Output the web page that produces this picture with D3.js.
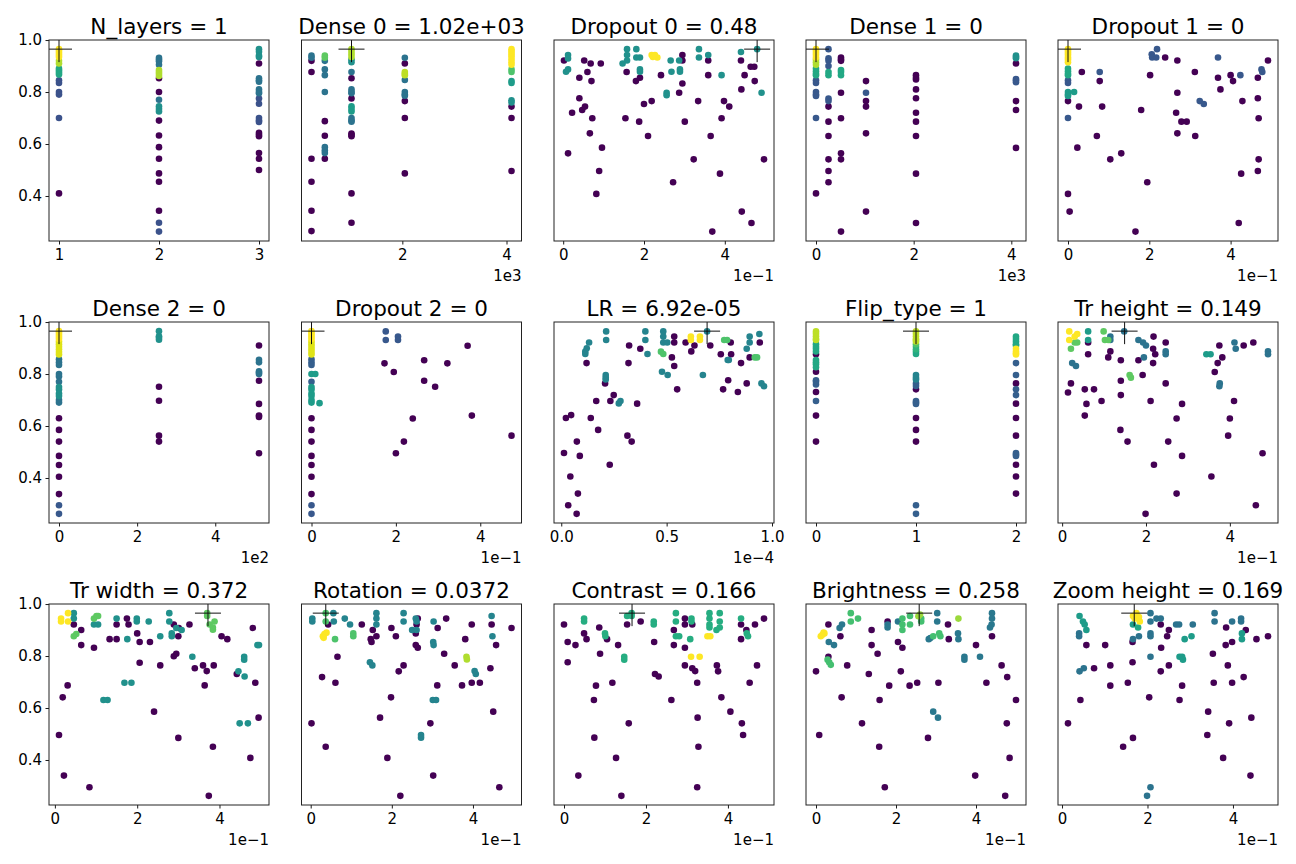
<!DOCTYPE html>
<html>
<head>
<meta charset="utf-8">
<script src="https://cdn.jsdelivr.net/npm/d3@7"></script>
<style>
  body { margin: 0; background: #fff; }
  text { font-family: "DejaVu Sans", sans-serif; fill: #000; }
</style>
</head>
<body>
<div id="chart"></div>
<script>
// Panel titles, best value per hyperparameter, and tick setup
var titles = ["N_layers = 1", "Dense 0 = 1.02e+03", "Dropout 0 = 0.48", "Dense 1 = 0", "Dropout 1 = 0",
  "Dense 2 = 0", "Dropout 2 = 0", "LR = 6.92e-05", "Flip_type = 1", "Tr height = 0.149",
  "Tr width = 0.372", "Rotation = 0.0372", "Contrast = 0.166", "Brightness = 0.258", "Zoom height = 0.169"];
var bestX = [1, 1024, 0.48, 0, 0, 0, 0, 6.92e-5, 1, 0.149, 0.372, 0.0372, 0.166, 0.258, 0.169];
var bestY = 0.965;
var tickSteps = [1, 2000, 0.2, 2000, 0.2, 200, 0.2, 0.5e-4, 1, 0.2, 0.2, 0.2, 0.2, 0.2, 0.2];
var tickUnits = [1, 1e3, 1e-1, 1e3, 1e-1, 1e2, 1e-1, 1e-4, 1, 1e-1, 1e-1, 1e-1, 1e-1, 1e-1, 1e-1];
var offsetLabels = ["", "1e3", "1e\u22121", "1e3", "1e\u22121", "1e2", "1e\u22121", "1e\u22124", "", "1e\u22121",
  "1e\u22121", "1e\u22121", "1e\u22121", "1e\u22121", "1e\u22121"];
var tickFormats = ["d", "d", "d", "d", "d", "d", "d", ".1f", "d", "d", "d", "d", "d", "d", "d"];
var yTicks = [0.4, 0.6, 0.8, 1.0];

// trials: [hyperparameter value, accuracy, colour value]
var nLayersPts = [
  [1,0.965,1],[1,0.958,1],[1,0.95,1],[1,0.942,1],[1,0.935,1],[1,0.92,.88],[1,0.91,.88],[1,0.89,.6],[1,0.883,.6],[1,0.875,.6],[1,0.867,.6],[1,0.845,.25],[1,0.835,.25],[1,0.8,.25],[1,0.79,.25],[1,0.7,.25],[1,0.41,0],
  [2,0.932,.38],[2,0.925,.38],[2,0.918,.38],[2,0.905,.38],[2,0.885,.88],[2,0.877,.88],[2,0.87,.88],[2,0.862,.88],[2,0.853,0],[2,0.8,0],[2,0.77,.38],[2,0.745,.5],[2,0.735,.5],[2,0.725,.5],[2,0.69,0],[2,0.633,0],[2,0.588,0],[2,0.543,0],[2,0.487,0],[2,0.455,0],[2,0.343,0],[2,0.297,.25],[2,0.263,.25],
  [3,0.965,.5],[3,0.955,.5],[3,0.94,.5],[3,0.935,.5],[3,0.91,0],[3,0.853,.38],[3,0.845,.38],[3,0.84,.38],[3,0.81,.38],[3,0.8,.38],[3,0.795,.38],[3,0.775,.25],[3,0.755,.25],[3,0.7,.25],[3,0.69,.25],[3,0.685,.25],[3,0.643,0],[3,0.636,0],[3,0.63,0],[3,0.565,0],[3,0.543,0],[3,0.5,0]
];
var dense0Pts = [
  [256,0.94,.38],[256,0.932,.38],[256,0.92,0],[256,0.877,0],[256,0.543,0],[256,0.455,0],[256,0.343,0],[256,0.265,0],
  [512,0.94,.75],[512,0.932,.75],[512,0.92,.38],[512,0.887,.38],[512,0.865,.38],[512,0.8,.38],[512,0.688,0],[512,0.632,0],[512,0.588,.38],[512,0.575,.38],[512,0.565,.38],[512,0.543,0],
  [1024,0.965,.88],[1024,0.955,.88],[1024,0.945,.88],[1024,0.935,.88],[1024,0.925,.5],[1024,0.915,.5],[1024,0.877,.38],[1024,0.853,0],[1024,0.81,.38],[1024,0.8,.38],[1024,0.795,.38],[1024,0.775,0],[1024,0.745,.55],[1024,0.735,.55],[1024,0.725,.55],[1024,0.7,.38],[1024,0.69,.38],[1024,0.686,.38],[1024,0.64,0],[1024,0.635,0],[1024,0.63,0],[1024,0.41,0],[1024,0.297,0],
  [2048,0.932,.38],[2048,0.91,0],[2048,0.877,.9],[2048,0.87,.9],[2048,0.865,.9],[2048,0.846,.38],[2048,0.8,.38],[2048,0.79,.38],[2048,0.786,.38],[2048,0.765,0],[2048,0.7,0],[2048,0.487,0],
  [4096,0.965,1],[4096,0.958,1],[4096,0.95,1],[4096,0.942,1],[4096,0.935,1],[4096,0.925,1],[4096,0.915,1],[4096,0.905,1],[4096,0.887,.72],[4096,0.877,.72],[4096,0.842,.55],[4096,0.835,.55],[4096,0.768,.5],[4096,0.76,.5],[4096,0.744,0],[4096,0.7,0],[4096,0.496,0]
];
var dropout0Pts = [
  [0.012,0.942,.5],[0.012,0.929,.5],[0.007,0.878,.5],[0.012,0.887,.5],[0.158,0.965,.5],[0.158,0.942,.5],[0.158,0.921,.5],[0.181,0.965,.5],[0.181,0.933,.5],[0.19,0.933,.5],[0.19,0.887,.5],[0.19,0.878,.5],[0.147,0.91,.5],[0.256,0.797,.5],[0.256,0.788,.5],[0.266,0.921,.5],[0.268,0.878,.5],[0.287,0.921,.5],[0.289,0.887,.5],[0.289,0.878,.5],[0.336,0.965,.5],[0.336,0.933,.5],[0.359,0.942,.5],[0.392,0.865,.5],[0.44,0.954,.5],[0.48,0.965,.5],[0.491,0.797,.5],
  [0.219,0.942,1],[0.227,0.942,1],[0.233,0.933,1],[0.222,0.935,1],
  [0.002,0.921,0],[0.052,0.921,0],[0.068,0.91,0],[0.093,0.91,0],[0.04,0.855,0],[0.06,0.877,0],[0.07,0.842,0],[0.04,0.776,0],[0.022,0.72,0],[0.047,0.731,0],[0.054,0.744,0],[0.072,0.699,0],[0.066,0.641,0],[0.096,0.586,0],[0.012,0.564,0],[0.089,0.496,0],[0.082,0.408,0],
  [0.157,0.877,0],[0.18,0.842,0],[0.19,0.855,0],[0.2,0.754,0],[0.219,0.765,0],[0.242,0.865,0],[0.154,0.699,0],[0.188,0.686,0],[0.21,0.631,0],[0.272,0.453,0],[0.287,0.797,0],[0.295,0.942,0],[0.295,0.921,0],[0.295,0.833,0],[0.301,0.686,0],[0.323,0.541,0],[0.334,0.765,0],
  [0.359,0.921,0],[0.359,0.865,0],[0.365,0.631,0],[0.369,0.263,0],[0.388,0.486,0],[0.392,0.699,0],[0.398,0.765,0],[0.411,0.744,0],[0.44,0.921,0],[0.441,0.81,0],[0.449,0.865,0],[0.442,0.34,0],[0.464,0.897,0],[0.473,0.897,0],[0.474,0.842,0],[0.466,0.296,0],[0.497,0.541,0]
];
var dense1Pts = [
  [0,0.965,1],[0,0.958,1],[0,0.95,1],[0,0.942,1],[0,0.933,1],[0,0.925,.88],[0,0.915,.88],[0,0.905,.88],[0,0.89,.6],[0,0.88,.6],[0,0.87,.6],[0,0.865,.6],[0,0.845,.27],[0,0.835,.27],[0,0.8,.27],[0,0.79,.27],[0,0.785,.27],[0,0.7,.27],[0,0.41,0],
  [256,0.965,.27],[256,0.93,.27],[256,0.92,.27],[256,0.9,.27],[256,0.877,.6],[256,0.865,.6],[256,0.775,.27],[256,0.765,.27],[256,0.744,0],[256,0.686,0],[256,0.631,0],[256,0.541,0],[256,0.496,0],[256,0.453,0],
  [512,0.933,0],[512,0.925,0],[512,0.92,0],[512,0.885,.6],[512,0.877,.6],[512,0.865,.6],[512,0.797,0],[512,0.699,0],[512,0.564,0],[512,0.541,0],[512,0.263,0],
  [1024,0.842,0],[1024,0.797,.27],[1024,0.765,0],[1024,0.744,0],[1024,0.641,0],[1024,0.34,0],
  [2048,0.865,0],[2048,0.855,0],[2048,0.848,0],[2048,0.81,0],[2048,0.776,0],[2048,0.72,0],[2048,0.686,0],[2048,0.631,0],[2048,0.486,0],[2048,0.296,0],
  [4096,0.94,.5],[4096,0.935,.5],[4096,0.93,.5],[4096,0.91,0],[4096,0.85,.27],[4096,0.845,.27],[4096,0.838,.27],[4096,0.765,0],[4096,0.731,0],[4096,0.585,0]
];
var dropout1Pts = [
  [0,0.965,1],[0,0.958,1],[0,0.95,1],[0,0.942,1],[0,0.933,1],[0,0.925,1],[0,0.915,1],[0,0.89,.6],[0,0.88,.6],[0,0.87,.6],[0,0.865,.6],[0,0.845,.27],[0,0.835,.27],[0,0.8,.55],[0,0.79,.55],[0,0.785,.55],[0,0.765,0],[0,0.7,.27],[0,0.408,0],[0.004,0.34,0],[0.015,0.8,.55],
  [0.034,0.877,0],[0.027,0.744,0],[0.023,0.586,0],[0.071,0.631,0],[0.078,0.842,0],[0.084,0.744,0],[0.104,0.541,0],[0.131,0.564,0],[0.18,0.731,0],[0.195,0.453,0],[0.166,0.263,0],[0.202,0.865,0],[0.239,0.933,0],[0.269,0.921,0],[0.269,0.797,0],[0.266,0.72,0],[0.279,0.686,0],[0.292,0.686,0],[0.269,0.641,0],[0.312,0.877,0],[0.313,0.631,0],
  [0.369,0.855,0],[0.375,0.81,0],[0.4,0.865,0],[0.406,0.842,0],[0.429,0.765,0],[0.426,0.486,0],[0.42,0.296,0],[0.467,0.855,0],[0.467,0.776,0],[0.469,0.699,0],[0.469,0.541,0],[0.467,0.496,0],[0.492,0.921,0],
  [0.078,0.877,.27],[0.206,0.945,.27],[0.207,0.933,.27],[0.219,0.965,.27],[0.217,0.933,.27],[0.324,0.765,.27],[0.334,0.754,.27],[0.369,0.933,.27],[0.424,0.865,.27],[0.476,0.887,.27],[0.478,0.877,.27]
];
var dense2Pts = [
  [0,0.965,1],[0,0.958,1],[0,0.95,1],[0,0.942,1],[0,0.935,1],[0,0.925,.95],[0,0.915,.95],[0,0.905,.95],[0,0.895,.95],[0,0.885,.95],[0,0.875,.95],[0,0.857,.38],[0,0.845,.38],[0,0.835,.38],[0,0.8,.38],[0,0.79,.38],[0,0.77,.38],[0,0.75,.5],[0,0.74,.5],[0,0.725,.5],[0,0.715,.5],[0,0.7,.38],[0,0.69,.38],
  [0,0.63,0],[0,0.585,0],[0,0.54,0],[0,0.485,0],[0,0.45,0],[0,0.405,0],[0,0.338,0],[0,0.295,.27],[0,0.262,.27],
  [256,0.965,.5],[256,0.945,.5],[256,0.94,.5],[256,0.932,.5],[256,0.751,0],[256,0.697,0],[256,0.563,0],[256,0.54,0],
  [512,0.91,0],[512,0.855,.38],[512,0.845,.38],[512,0.81,.38],[512,0.805,.38],[512,0.8,.38],[512,0.774,0],[512,0.685,0],[512,0.64,0],[512,0.635,0],[512,0.495,0]
];
var dropout2Pts = [
  [0,0.965,1],[0,0.958,1],[0,0.95,1],[0,0.942,1],[0,0.935,1],[0,0.925,.95],[0,0.915,.95],[0,0.905,.95],[0,0.895,.95],[0,0.885,.95],[0,0.875,.95],[0,0.857,.3],[0,0.845,.3],[0,0.835,.3],[0,0.8,.55],[0,0.77,.3],[0,0.75,.55],[0,0.74,.55],[0,0.725,.55],[0,0.715,.55],[0,0.7,.55],[0,0.69,.55],
  [0,0.63,0],[0,0.585,0],[0,0.54,0],[0,0.485,0],[0,0.45,0],[0,0.405,0],[0,0.338,0],[0,0.295,.27],[0,0.262,.27],[0.009,0.8,.55],[0.019,0.688,.55],
  [0.176,0.964,.27],[0.176,0.931,.27],[0.205,0.944,.27],[0.205,0.931,.27],
  [0.173,0.841,0],[0.195,0.808,0],[0.267,0.853,0],[0.322,0.841,0],[0.37,0.909,0],[0.267,0.774,0],[0.293,0.751,0],[0.24,0.629,0],[0.38,0.64,0],[0.219,0.54,0],[0.2,0.495,0],[0.474,0.563,0]
];
var lrPts = [
  [2.13e-5,0.964,.45],[2.13e-5,0.931,.45],[1.32e-5,0.921,.45],[1.21e-5,0.899,.45],[1.14e-5,0.886,.45],[1.14e-5,0.877,.45],[2.11e-5,0.796,.45],[2.11e-5,0.786,.45],[2.11e-5,0.779,.45],[2.73e-5,0.687,.45],[2.81e-5,0.696,.45],[3.99e-5,0.964,.45],[3.99e-5,0.931,.45],[4.09e-5,0.877,.45],[4.84e-5,0.964,.45],
  [4.84e-5,0.944,.45],[4.84e-5,0.921,.45],[5.03e-5,0.921,.45],[4.78e-5,0.809,.45],[5.05e-5,0.796,.45],[6.72e-5,0.796,.45],[6.92e-5,0.964,.45],[7.9e-5,0.854,.45],[7.95e-5,0.854,.45],[8.8e-5,0.897,.45],[8.94e-5,0.944,.45],[8.94e-5,0.921,.45],[9.4e-5,0.954,.45],[9.5e-5,0.764,.45],[9.62e-5,0.753,.45],
  [4.73e-5,0.886,.72],[4.84e-5,0.877,.72],[7.73e-5,0.931,.72],[7.87e-5,0.931,.72],[9.18e-5,0.864,.72],[9.29e-5,0.864,.72],
  [6.15e-5,0.944,1],[6.15e-5,0.931,1],[6.58e-5,0.944,1],[6.58e-5,0.931,1],
  [1.2e-5,0.842,0],[0.47e-5,0.642,0],[0.22e-5,0.631,0],[1.4e-5,0.631,0],[1.66e-5,0.696,0],[1.75e-5,0.585,0],[0.74e-5,0.54,0],[0.13e-5,0.496,0],[0.88e-5,0.485,0],[0.43e-5,0.406,0],[0.79e-5,0.34,0],[0.33e-5,0.295,0],[0.73e-5,0.262,0],[2.08e-5,0.764,0],[2.33e-5,0.696,0],[2.49e-5,0.719,0],[2.3e-5,0.451,0],
  [3.14e-5,0.563,0],[3.34e-5,0.54,0],[3.6e-5,0.686,0],[3.22e-5,0.91,0],[3.19e-5,0.842,0],[3.75e-5,0.897,0],[5.36e-5,0.944,0],[5.36e-5,0.921,0],[5.25e-5,0.864,0],[5.36e-5,0.831,0],[5.5e-5,0.741,0],[5.9e-5,0.921,0],[6.17e-5,0.887,0],[6.32e-5,0.91,0],[7.07e-5,0.91,0],
  [7.57e-5,0.876,0],[8.04e-5,0.921,0],[8.06e-5,0.876,0],[7.68e-5,0.741,0],[7.92e-5,0.776,0],[8.38e-5,0.731,0],[8.53e-5,0.842,0],[8.8e-5,0.764,0],[9.42e-5,0.921,0],[8.94e-5,0.864,0]
];
var flipPts = [
  [0,0.964,.9],[0,0.955,.9],[0,0.945,.9],[0,0.935,.9],[0,0.931,.9],[0,0.915,.6],[0,0.905,.6],[0,0.897,.6],[0,0.887,.6],[0,0.876,0],[0,0.854,.6],[0,0.845,.6],[0,0.838,.6],[0,0.826,.6],[0,0.809,0],[0,0.776,.3],[0,0.77,.3],[0,0.76,.3],[0,0.731,0],[0,0.696,.3],[0,0.64,0],[0,0.54,0],
  [1,0.964,.9],[1,0.955,.9],[1,0.945,.9],[1,0.935,.9],[1,0.931,.9],[1,0.925,.9],[1,0.915,.72],[1,0.905,.65],[1,0.895,.65],[1,0.887,.6],[1,0.877,.6],[1,0.796,.45],[1,0.786,.45],[1,0.779,.45],[1,0.764,.3],[1,0.754,.3],[1,0.741,0],[1,0.696,.3],[1,0.69,.3],[1,0.685,.3],[1,0.631,0],[1,0.585,0],[1,0.54,0],[1,0.295,.3],[1,0.262,.3],
  [2,0.944,.6],[2,0.935,.6],[2,0.925,.6],[2,0.915,.6],[2,0.91,.6],[2,0.897,1],[2,0.887,1],[2,0.88,1],[2,0.875,1],[2,0.842,.3],[2,0.796,.3],[2,0.764,0],[2,0.741,.3],[2,0.719,.3],[2,0.686,0],[2,0.631,0],[2,0.563,0],[2,0.496,.3],[2,0.49,.3],[2,0.485,.3],[2,0.451,0],[2,0.406,0],[2,0.34,0]
];
var trHeightPts = [
  [0.017,0.964,1],[0.017,0.931,1],[0.03,0.944,1],[0.036,0.954,1],
  [0.021,0.897,.75],[0.03,0.921,.75],[0.036,0.921,.75],[0.099,0.964,.75],[0.102,0.931,.75],[0.11,0.931,.75],[0.161,0.796,.75],[0.164,0.786,.75],
  [0.062,0.964,.55],[0.062,0.931,.55],[0.344,0.876,.55],[0.354,0.876,.55],
  [0.024,0.842,.38],[0.033,0.831,.38],[0.115,0.944,.38],[0.115,0.931,.38],[0.148,0.964,.38],[0.182,0.931,.38],[0.193,0.921,.38],[0.2,0.91,.38],[0.195,0.864,.38],[0.247,0.887,.38],[0.247,0.876,.38],[0.376,0.764,.38],[0.375,0.753,.38],[0.411,0.921,.38],[0.414,0.897,.38],[0.491,0.887,.38],[0.491,0.876,.38],
  [0.062,0.921,0],[0.062,0.876,0],[0.021,0.764,0],[0.014,0.729,0],[0.054,0.741,0],[0.076,0.741,0],[0.058,0.685,0],[0.054,0.64,0],[0.094,0.696,0],[0.11,0.864,0],[0.115,0.887,0],[0.14,0.853,0],[0.14,0.774,0],[0.14,0.719,0],[0.139,0.585,0],[0.156,0.54,0],[0.182,0.853,0],[0.192,0.796,0],[0.211,0.696,0],
  [0.217,0.897,0],[0.218,0.944,0],[0.217,0.842,0],[0.222,0.876,0],[0.219,0.451,0],[0.247,0.921,0],[0.247,0.764,0],[0.253,0.54,0],[0.273,0.629,0],[0.273,0.34,0],[0.286,0.685,0],[0.286,0.485,0],[0.356,0.406,0],[0.364,0.808,0],[0.371,0.842,0],[0.375,0.91,0],[0.382,0.864,0],
  [0.396,0.563,0],[0.4,0.629,0],[0.41,0.696,0],[0.433,0.91,0],[0.456,0.921,0],[0.478,0.495,0],[0.462,0.295,0],[0.199,0.262,0]
];
var trWidthPts = [
  [0.015,0.944,1],[0.015,0.933,1],[0.032,0.965,1],[0.032,0.933,1],
  [0.046,0.876,.75],[0.052,0.885,.75],[0.095,0.944,.75],[0.101,0.954,.75],[0.105,0.954,.75],[0.37,0.965,.75],[0.37,0.954,.75],[0.376,0.921,.75],[0.384,0.91,.75],[0.388,0.933,.75],[0.384,0.901,.75],
  [0.046,0.965,.5],[0.046,0.944,.5],[0.095,0.921,.5],[0.105,0.921,.5],[0.15,0.944,.5],[0.176,0.865,.5],[0.199,0.944,.5],[0.199,0.933,.5],[0.228,0.933,.5],[0.256,0.876,.5],[0.278,0.965,.5],[0.278,0.933,.5],[0.284,0.887,.5],[0.284,0.876,.5],[0.308,0.9,.5],
  [0.334,0.797,.5],[0.46,0.797,.5],[0.46,0.786,.5],[0.461,0.721,.5],[0.446,0.741,.5],[0.492,0.842,.5],[0.496,0.842,.5],[0.449,0.541,.5],[0.469,0.541,.5],[0.118,0.631,.5],[0.128,0.631,.5],[0.169,0.697,.5],[0.186,0.697,.5],[0.295,0.908,.5],
  [0.046,0.921,0],[0.064,0.9,0],[0.064,0.842,0],[0.019,0.641,0],[0.031,0.687,0],[0.01,0.496,0],[0.022,0.34,0],[0.084,0.295,0],[0.095,0.832,0],[0.133,0.865,0],[0.15,0.865,0],[0.15,0.921,0],[0.175,0.944,0],[0.179,0.921,0],[0.2,0.887,0],[0.206,0.854,0],[0.206,0.774,0],[0.231,0.854,0],[0.256,0.764,0],[0.241,0.586,0],
  [0.289,0.799,0],[0.295,0.809,0],[0.289,0.921,0],[0.301,0.908,0],[0.3,0.876,0],[0.3,0.485,0],[0.327,0.921,0],[0.34,0.753,0],[0.36,0.764,0],[0.369,0.742,0],[0.364,0.687,0],[0.386,0.764,0],[0.384,0.451,0],[0.405,0.876,0],[0.419,0.865,0],[0.442,0.731,0],[0.475,0.408,0],
  [0.481,0.908,0],[0.487,0.697,0],[0.495,0.563,0],[0.374,0.262,0]
];
var rotationPts = [
  [0.03,0.876,1],[0.034,0.885,1],[0.039,0.89,1],[0.032,0.87,1],
  [0.037,0.965,.72],[0.037,0.933,.72],[0.06,0.865,.72],[0.105,0.887,.72],[0.105,0.876,.72],[0.384,0.797,.88],[0.385,0.787,.88],
  [0.004,0.944,.45],[0.004,0.933,.45],[0.056,0.965,.45],[0.057,0.933,.45],[0.084,0.944,.45],[0.097,0.921,.45],[0.162,0.965,.45],[0.162,0.944,.45],[0.162,0.921,.45],[0.146,0.776,.45],[0.152,0.764,.45],[0.229,0.965,.45],[0.229,0.933,.45],
  [0.25,0.9,.45],[0.259,0.944,.45],[0.261,0.933,.45],[0.261,0.9,.45],[0.303,0.933,.45],[0.302,0.854,.45],[0.303,0.842,.45],[0.301,0.631,.45],[0.309,0.631,.45],[0.272,0.496,.45],[0.272,0.486,.45],[0.404,0.742,.45],[0.407,0.731,.45],[0.446,0.954,.45],[0.448,0.876,.45],
  [0.002,0.541,0],[0.037,0.451,0],[0.043,0.921,0],[0.066,0.797,0],[0.061,0.697,0],[0.028,0.719,0],[0.126,0.921,0],[0.153,0.9,0],[0.148,0.865,0],[0.15,0.854,0],[0.162,0.876,0],[0.171,0.563,0],[0.189,0.408,0],[0.198,0.641,0],[0.199,0.908,0],[0.21,0.876,0],[0.217,0.741,0],[0.229,0.764,0],
  [0.221,0.262,0],[0.261,0.921,0],[0.264,0.944,0],[0.259,0.887,0],[0.259,0.842,0],[0.264,0.832,0],[0.295,0.541,0],[0.302,0.34,0],[0.313,0.908,0],[0.312,0.687,0],[0.329,0.809,0],[0.334,0.944,0],[0.355,0.764,0],[0.373,0.687,0],[0.381,0.865,0],[0.397,0.921,0],
  [0.397,0.697,0],[0.417,0.697,0],[0.443,0.753,0],[0.45,0.586,0],[0.446,0.921,0],[0.457,0.842,0],[0.465,0.295,0],[0.495,0.908,0]
];
var contrastPts = [
  [0.049,0.944,.62],[0.049,0.933,.62],[0.1,0.887,.62],[0.101,0.876,.62],[0.147,0.797,.62],[0.147,0.786,.62],[0.154,0.954,.62],[0.165,0.965,.62],[0.165,0.954,.62],[0.219,0.933,.62],[0.219,0.921,.62],[0.273,0.965,.62],[0.273,0.933,.62],[0.273,0.876,.62],[0.281,0.876,.62],
  [0.311,0.944,.62],[0.311,0.933,.62],[0.308,0.865,.62],[0.355,0.965,.62],[0.355,0.944,.62],[0.355,0.921,.62],[0.355,0.91,.62],[0.38,0.965,.62],[0.38,0.933,.62],[0.38,0.91,.62],[0.372,0.9,.62],[0.432,0.944,.62],[0.446,0.887,.62],[0.449,0.876,.62],
  [0.35,0.876,1],[0.357,0.876,1],[0.31,0.797,1],[0.331,0.797,1],
  [0,0.921,0],[0.009,0.854,0],[0.009,0.776,0],[0.028,0.842,0],[0.049,0.887,0],[0.055,0.865,0],[0.086,0.91,0],[0.088,0.809,0],[0.105,0.865,0],[0.078,0.686,0],[0.073,0.631,0],[0.074,0.486,0],[0.035,0.34,0],[0.118,0.697,0],[0.127,0.408,0],[0.132,0.842,0],[0.14,0.262,0],
  [0.154,0.921,0],[0.158,0.541,0],[0.187,0.933,0],[0.22,0.854,0],[0.222,0.731,0],[0.231,0.721,0],[0.262,0.631,0],[0.268,0.9,0],[0.268,0.842,0],[0.295,0.944,0],[0.295,0.921,0],[0.295,0.832,0],[0.295,0.764,0],[0.313,0.921,0],[0.313,0.753,0],[0.32,0.742,0],
  [0.325,0.697,0],[0.326,0.563,0],[0.328,0.451,0],[0.325,0.295,0],[0.373,0.764,0],[0.376,0.741,0],[0.384,0.641,0],[0.406,0.586,0],[0.432,0.921,0],[0.432,0.865,0],[0.434,0.541,0],[0.437,0.496,0],[0.445,0.9,0],[0.453,0.697,0],[0.466,0.921,0],[0.471,0.764,0],[0.488,0.944,0]
];
var brightnessPts = [
  [0.012,0.876,1],[0.016,0.882,1],[0.019,0.89,1],[0.021,0.887,1],
  [0.087,0.965,.7],[0.087,0.933,.7],[0.105,0.944,.7],[0.029,0.786,.7],[0.033,0.776,.7],[0.037,0.766,.7],[0.216,0.944,.7],[0.216,0.921,.7],[0.216,0.9,.7],[0.235,0.954,.7],[0.235,0.921,.7],[0.263,0.944,.7],[0.263,0.933,.7],[0.293,0.876,.7],[0.308,0.887,.7],[0.311,0.876,.7],
  [0.356,0.944,.85],[0.256,0.953,.85],[0.26,0.96,.85],
  [0.032,0.854,.4],[0.045,0.842,.4],[0.059,0.908,.4],[0.065,0.921,.4],[0.179,0.921,.4],[0.179,0.91,.4],[0.205,0.933,.4],[0.303,0.965,.4],[0.303,0.933,.4],[0.282,0.865,.4],[0.286,0.869,.4],[0.355,0.887,.4],[0.356,0.865,.4],[0.371,0.797,.4],[0.371,0.786,.4],[0.41,0.797,.4],
  [0.435,0.91,.4],[0.439,0.921,.4],[0.44,0.965,.4],[0.44,0.944,.4],[0.293,0.586,.4],[0.305,0.563,.4],
  [0.031,0.921,0],[0.061,0.876,0],[0,0.741,0],[0.008,0.496,0],[0.031,0.797,0],[0.064,0.641,0],[0.078,0.764,0],[0.115,0.541,0],[0.132,0.731,0],[0.139,0.9,0],[0.139,0.842,0],[0.154,0.809,0],[0.159,0.631,0],[0.158,0.451,0],[0.172,0.295,0],[0.179,0.933,0],[0.183,0.686,0],
  [0.205,0.854,0],[0.212,0.741,0],[0.216,0.832,0],[0.234,0.686,0],[0.253,0.697,0],[0.28,0.485,0],[0.306,0.697,0],[0.33,0.921,0],[0.332,0.865,0],[0.4,0.842,0],[0.398,0.34,0],[0.426,0.697,0],[0.44,0.876,0],[0.464,0.764,0],[0.477,0.541,0],[0.478,0.719,0],
  [0.484,0.408,0],[0.473,0.262,0],[0.5,0.631,0]
];
var zoomHeightPts = [
  [0.166,0.954,1],[0.174,0.965,1],[0.178,0.944,1],[0.182,0.933,1],[0.17,0.944,1],[0.172,0.955,1],[0.18,0.95,1],
  [0.041,0.954,.55],[0.049,0.933,.55],[0.053,0.921,.55],[0.057,0.9,.55],[0.166,0.921,.55],[0.178,0.91,.6],[0.275,0.797,.55],[0.281,0.797,.55],[0.283,0.786,.55],[0.287,0.865,.55],[0.303,0.876,.55],[0.421,0.887,.55],[0.421,0.865,.55],
  [0.04,0.887,.38],[0.04,0.876,.38],[0.041,0.741,.38],[0.051,0.753,.38],[0.166,0.865,.38],[0.18,0.876,.38],[0.207,0.965,.38],[0.207,0.933,.38],[0.207,0.887,.38],[0.207,0.876,.38],[0.207,0.797,.38],[0.221,0.944,.38],[0.231,0.944,.38],[0.267,0.921,.38],[0.274,0.921,.38],[0.306,0.921,.38],
  [0.357,0.965,.38],[0.357,0.933,.38],[0.398,0.933,.38],[0.419,0.944,.38],[0.419,0.933,.38],[0.207,0.295,.38],[0.199,0.262,.38],
  [0.057,0.842,0],[0.101,0.842,0],[0.075,0.753,0],[0.113,0.764,0],[0.113,0.686,0],[0.043,0.631,0],[0.014,0.541,0],[0.154,0.697,0],[0.166,0.485,0],[0.143,0.451,0],[0.165,0.854,0],[0.165,0.776,0],[0.204,0.641,0],[0.231,0.921,0],[0.232,0.832,0],[0.231,0.741,0],[0.246,0.876,0],
  [0.25,0.9,0],[0.25,0.764,0],[0.275,0.631,0],[0.281,0.686,0],[0.342,0.586,0],[0.34,0.496,0],[0.353,0.809,0],[0.355,0.697,0],[0.377,0.408,0],[0.383,0.842,0],[0.384,0.91,0],[0.388,0.764,0],[0.391,0.541,0],[0.398,0.854,0],[0.398,0.697,0],[0.425,0.719,0],
  [0.43,0.9,0],[0.443,0.563,0],[0.441,0.34,0],[0.455,0.865,0],[0.482,0.876,0]
];

var allPts = [nLayersPts, dense0Pts, dropout0Pts, dense1Pts, dropout1Pts, dense2Pts, dropout2Pts, lrPts,
  flipPts, trHeightPts, trWidthPts, rotationPts, contrastPts, brightnessPts, zoomHeightPts];

// Layout
var width = 1296, height = 864;
var colLeft = [49, 301.5, 554, 806, 1058];
var rowTop = [40, 322, 604];
var pw = 220, ph = 201;

var svg = d3.select("#chart").append("svg")
  .attr("width", width).attr("height", height)
  .style("background", "#fff");

// shared y range from all trials, 5% margins like matplotlib
var allY = [];
allPts.forEach(function(p) { p.forEach(function(d) { allY.push(d[1]); }); });
var yMin = d3.min(allY), yMax = d3.max(allY), yPad = (yMax - yMin) * 0.05;
var y = d3.scaleLinear().domain([yMin - yPad, yMax + yPad]).range([ph, 0]);

allPts.forEach(function(pts, i) {
  var col = i % 5, row = Math.floor(i / 5);
  var g = svg.append("g").attr("transform", "translate(" + colLeft[col] + "," + rowTop[row] + ")");

  var ext = d3.extent(pts, function(d) { return d[0]; });
  var pad = (ext[1] - ext[0]) * 0.05;
  var x = d3.scaleLinear().domain([ext[0] - pad, ext[1] + pad]).range([0, pw]);

  g.append("clipPath").attr("id", "clip" + i)
    .append("rect").attr("width", pw).attr("height", ph);

  var plot = g.append("g").attr("clip-path", "url(#clip" + i + ")");

  var sorted = pts.slice().sort(function(a, b) { return a[2] - b[2]; });
  plot.selectAll("circle").data(sorted).enter().append("circle")
    .attr("cx", function(d) { return x(d[0]); })
    .attr("cy", function(d) { return y(d[1]); })
    .attr("r", 3.3)
    .attr("fill", function(d) { return d3.interpolateViridis(d[2]); });

  // best trial marker (+)
  var bx = x(bestX[i]), by = y(bestY);
  plot.append("line").attr("x1", bx - 13).attr("x2", bx + 13).attr("y1", by).attr("y2", by)
    .attr("stroke", "#111").attr("stroke-width", 1);
  plot.append("line").attr("x1", bx).attr("x2", bx).attr("y1", by - 13).attr("y2", by + 13)
    .attr("stroke", "#111").attr("stroke-width", 1);

  // x ticks like matplotlib: multiples of the step inside the domain
  var dom = x.domain(), step = tickSteps[i];
  var ticks = d3.range(Math.ceil(dom[0] / step - 1e-9), Math.floor(dom[1] / step + 1e-9) + 1)
    .map(function(k) { return k * step; });
  var fmt = d3.format(tickFormats[i]);
  var xAxis = d3.axisBottom(x).tickValues(ticks).tickSize(3.5).tickPadding(5)
    .tickFormat(function(v) { return fmt(Math.round(v / tickUnits[i] * 10) / 10); });
  var ax = g.append("g").attr("transform", "translate(0," + ph + ")").call(xAxis);
  ax.select(".domain").remove();
  ax.selectAll("line").attr("stroke", "#000").attr("stroke-width", 0.9);
  ax.selectAll("text").style("font-size", "15px").style("font-family", "DejaVu Sans").attr("fill", "#000");

  if (offsetLabels[i]) {
    g.append("text").attr("x", pw).attr("y", ph + 40)
      .attr("text-anchor", "end").style("font-size", "15px")
      .text(offsetLabels[i]);
  }

  if (col === 0) {
    var yAxis = d3.axisLeft(y).tickValues(yTicks).tickSize(3.5).tickPadding(3.5)
      .tickFormat(d3.format(".1f"));
    var ay = g.append("g").call(yAxis);
    ay.select(".domain").remove();
    ay.selectAll("line").attr("stroke", "#000").attr("stroke-width", 0.9);
    ay.selectAll("text").style("font-size", "15px").style("font-family", "DejaVu Sans").attr("fill", "#000");
  }

  g.append("rect").attr("width", pw).attr("height", ph)
    .attr("fill", "none").attr("stroke", "#222").attr("stroke-width", 1);

  g.append("text").attr("x", pw / 2).attr("y", -6)
    .attr("text-anchor", "middle").style("font-size", "21.5px")
    .text(titles[i]);
});
</script>
</body>
</html>
